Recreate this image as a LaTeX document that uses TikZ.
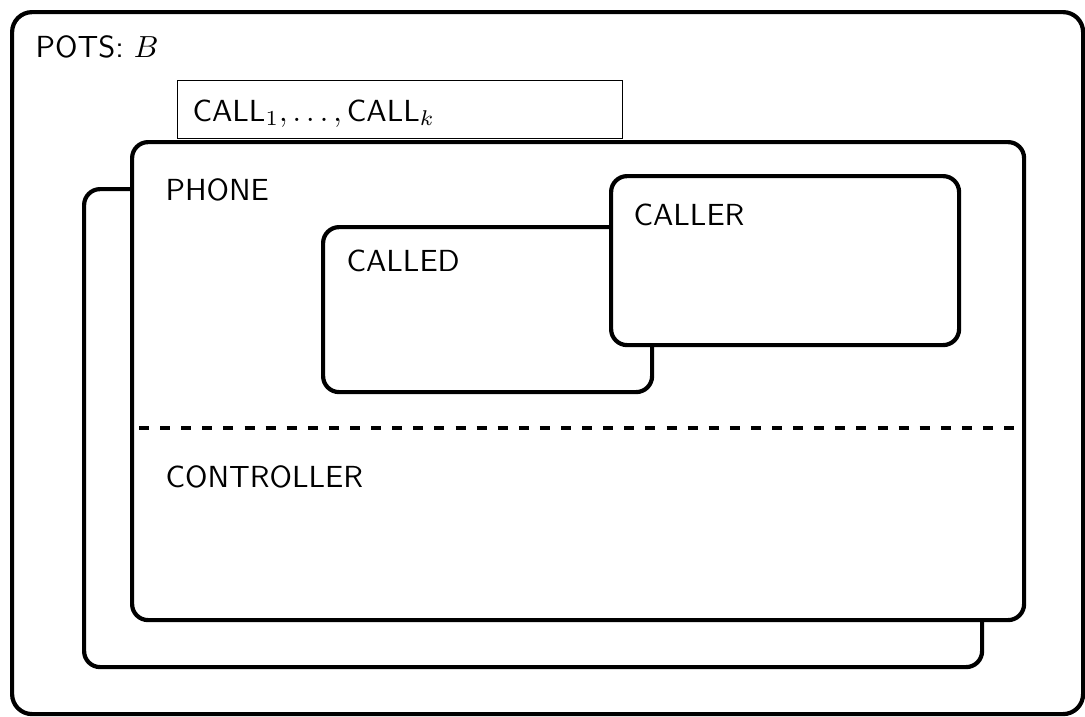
\documentclass[tikz,border=0pt]{standalone}
\begin{document}
\begin{tikzpicture}[x=1pt,y=-1pt,
  box/.style={draw, line width=4.2pt, rounded corners=16pt, fill=white, inner sep=0pt, anchor=north west},
  thinbox/.style={draw, line width=1.1pt, fill=white, inner sep=0pt, anchor=north west},
  lbl/.style={anchor=base west, inner sep=0pt, font=\sffamily, scale=3.05, transform shape}]
\useasboundingbox (0,0) rectangle (1085,716);
% outer system frame
\node[box, rounded corners=20pt, minimum width=1071pt, minimum height=702pt] (pots) at (10,10) {};
\node[lbl] (potsl) at (35,57) {POTS: $B$};
% call instances
\node[thinbox, minimum width=445pt, minimum height=58pt] (calls) at (177,80) {};
\node[lbl] (callsl) at (192,121) {CALL$_1,\ldots,\,$CALL$_k$};
% phone replicas
\node[box, minimum width=898pt, minimum height=478pt] (phoneback) at (82,187) {};
\node[box, minimum width=892pt, minimum height=478pt] (phone) at (130,140) {};
\node[lbl] (phonel) at (165,200) {PHONE};
% roles
\node[box, minimum width=329pt, minimum height=165pt] (called) at (321,225) {};
\node[lbl] (calledl) at (346,271) {CALLED};
\node[box, minimum width=348pt, minimum height=169pt] (caller) at (609,174) {};
\node[lbl] (callerl) at (633,225) {CALLER};
% controller partition
\coordinate (dl) at (139,428);
\coordinate (dr) at (1022,428);
\draw[line width=3.8pt, dash pattern=on 10pt off 11.1pt] (dl) -- (dr);
\node[lbl] (ctrl) at (165,487) {CONTROLLER};
\end{tikzpicture}
\end{document}
